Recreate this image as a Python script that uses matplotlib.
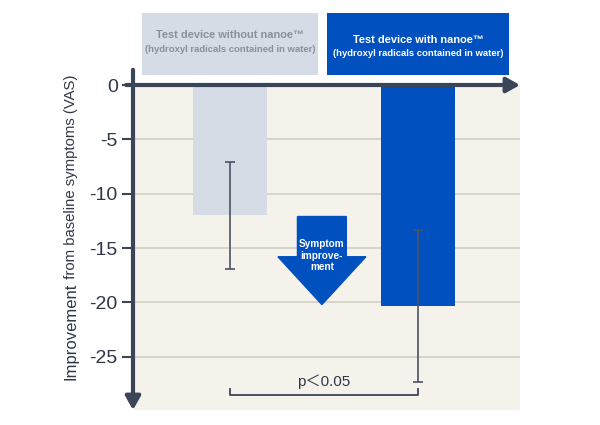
import matplotlib
matplotlib.use("Agg")
import matplotlib.pyplot as plt
from matplotlib.patches import Rectangle, Polygon

plt.rcParams['font.family'] = ['Liberation Sans', 'Noto Sans CJK JP', 'DejaVu Sans']

categories = ["Test device without nanoe™", "Test device with nanoe™"]
subtitles = ["(hydroxyl radicals contained in water)", "(hydroxyl radicals contained in water)"]
means = [-12.0, -20.3]
errors = [4.9, 7.0]
yticks = [0, -5, -10, -15, -20, -25]
p_text = "p＜0.05"

bar_colors = ["#D6DCE6", "#0050BF"]
axis_col = "#3B4558"
bg_col = "#F4F2EA"
text_col = "#2F3747"

W, H = 600, 425
fig = plt.figure(figsize=(6, 4.25), dpi=100)
x0, x1 = 133, 520
ytop, ybot = 85, 410
ax = fig.add_axes([x0 / W, 1 - ybot / H, (x1 - x0) / W, (ybot - ytop) / H])
ax.set_facecolor(bg_col)

xs = [0, 1]
ax.set_xlim(-0.516, 1.543)
ax.set_ylim(-29.9, 0)

for s in ax.spines.values():
    s.set_visible(False)

for t in yticks[1:]:
    ax.axhline(t, color="#D3CFC4", lw=1.2, zorder=1)

ax.bar(xs, means, width=0.394, color=bar_colors, zorder=2)
ax.errorbar(xs, means, yerr=errors, fmt="none", ecolor="#4A5366", elinewidth=1.2,
            capsize=3.3, capthick=1.2, zorder=3)

ax.set_xticks([])
ax.set_yticks(yticks)
ax.set_yticklabels([str(t) for t in yticks], fontsize=14, color=text_col)
ax.tick_params(axis="y", length=8, width=1.5, color=axis_col, pad=3)

ax.annotate("", xy=(1.543, 0), xytext=(-0.553, 0), xycoords="data",
            arrowprops=dict(arrowstyle="-|>,head_length=0.8,head_width=0.45", color=axis_col, lw=3,
                            shrinkA=0, shrinkB=0), annotation_clip=False, zorder=5)
ax.annotate("", xy=(-0.516, -29.9), xytext=(-0.516, 1.4), xycoords="data",
            arrowprops=dict(arrowstyle="-|>,head_length=0.8,head_width=0.45", color=axis_col, lw=3,
                            shrinkA=0, shrinkB=0), annotation_clip=False, zorder=5)

# improvement arrow
cx = 0.489
body_hw, head_hw = 0.13, 0.234
y_top, y_head, y_tip = -12.1, -15.8, -20.2
arrow = Polygon([(cx - body_hw, y_top), (cx + body_hw, y_top), (cx + body_hw, y_head),
                 (cx + head_hw, y_head), (cx, y_tip), (cx - head_hw, y_head),
                 (cx - body_hw, y_head)], closed=True, color="#0050BF", zorder=4)
ax.add_patch(arrow)
ax.text(cx, -15.7, "Symptom\nimprove-\nment", ha="center", va="center", color="white",
        fontsize=7.2, fontweight="bold", linespacing=1.2, zorder=5)

# significance bracket
by, bt = -28.5, -27.95
ax.plot([xs[0], xs[0], xs[1], xs[1]], [bt, by, by, bt], color="#3B4558", lw=1.3, zorder=4,
        clip_on=False)
ax.text(0.5, -27.3, p_text, ha="center", va="center", fontsize=11, color=text_col)

# legend boxes
boxes = [(142, 13, 318, 75), (327, 13, 509, 75)]
line_y = [(35, 49), (40, 53)]
box_fc = ["#D6DCE6", "#0050BF"]
txt_c = ["#8A909B", "white"]
for (bx0, by0, bx1, by1), (l1, l2), fc, tc, cat, sub in zip(boxes, line_y, box_fc, txt_c,
                                                           categories, subtitles):
    fig.patches.append(Rectangle((bx0 / W, 1 - by1 / H), (bx1 - bx0) / W, (by1 - by0) / H,
                                 transform=fig.transFigure, facecolor=fc, edgecolor="none"))
    cxp = (bx0 + bx1) / 2 / W
    fig.text(cxp, 1 - l1 / H, cat, ha="center", va="center", fontsize=7.9, fontweight="bold", color=tc)
    fig.text(cxp, 1 - l2 / H, sub, ha="center", va="center", fontsize=6.8, fontweight="bold", color=tc)

# y label
fig.text(71 / W, 1 - 380 / H, "Improvement", rotation=90, ha="center", va="bottom",
         fontsize=12, color=text_col)
fig.text(71.5 / W, 1 - 283 / H, " from baseline symptoms (VAS)", rotation=90, ha="center", va="bottom",
         fontsize=10.7, color=text_col)

fig.savefig("out.png", dpi=100)
